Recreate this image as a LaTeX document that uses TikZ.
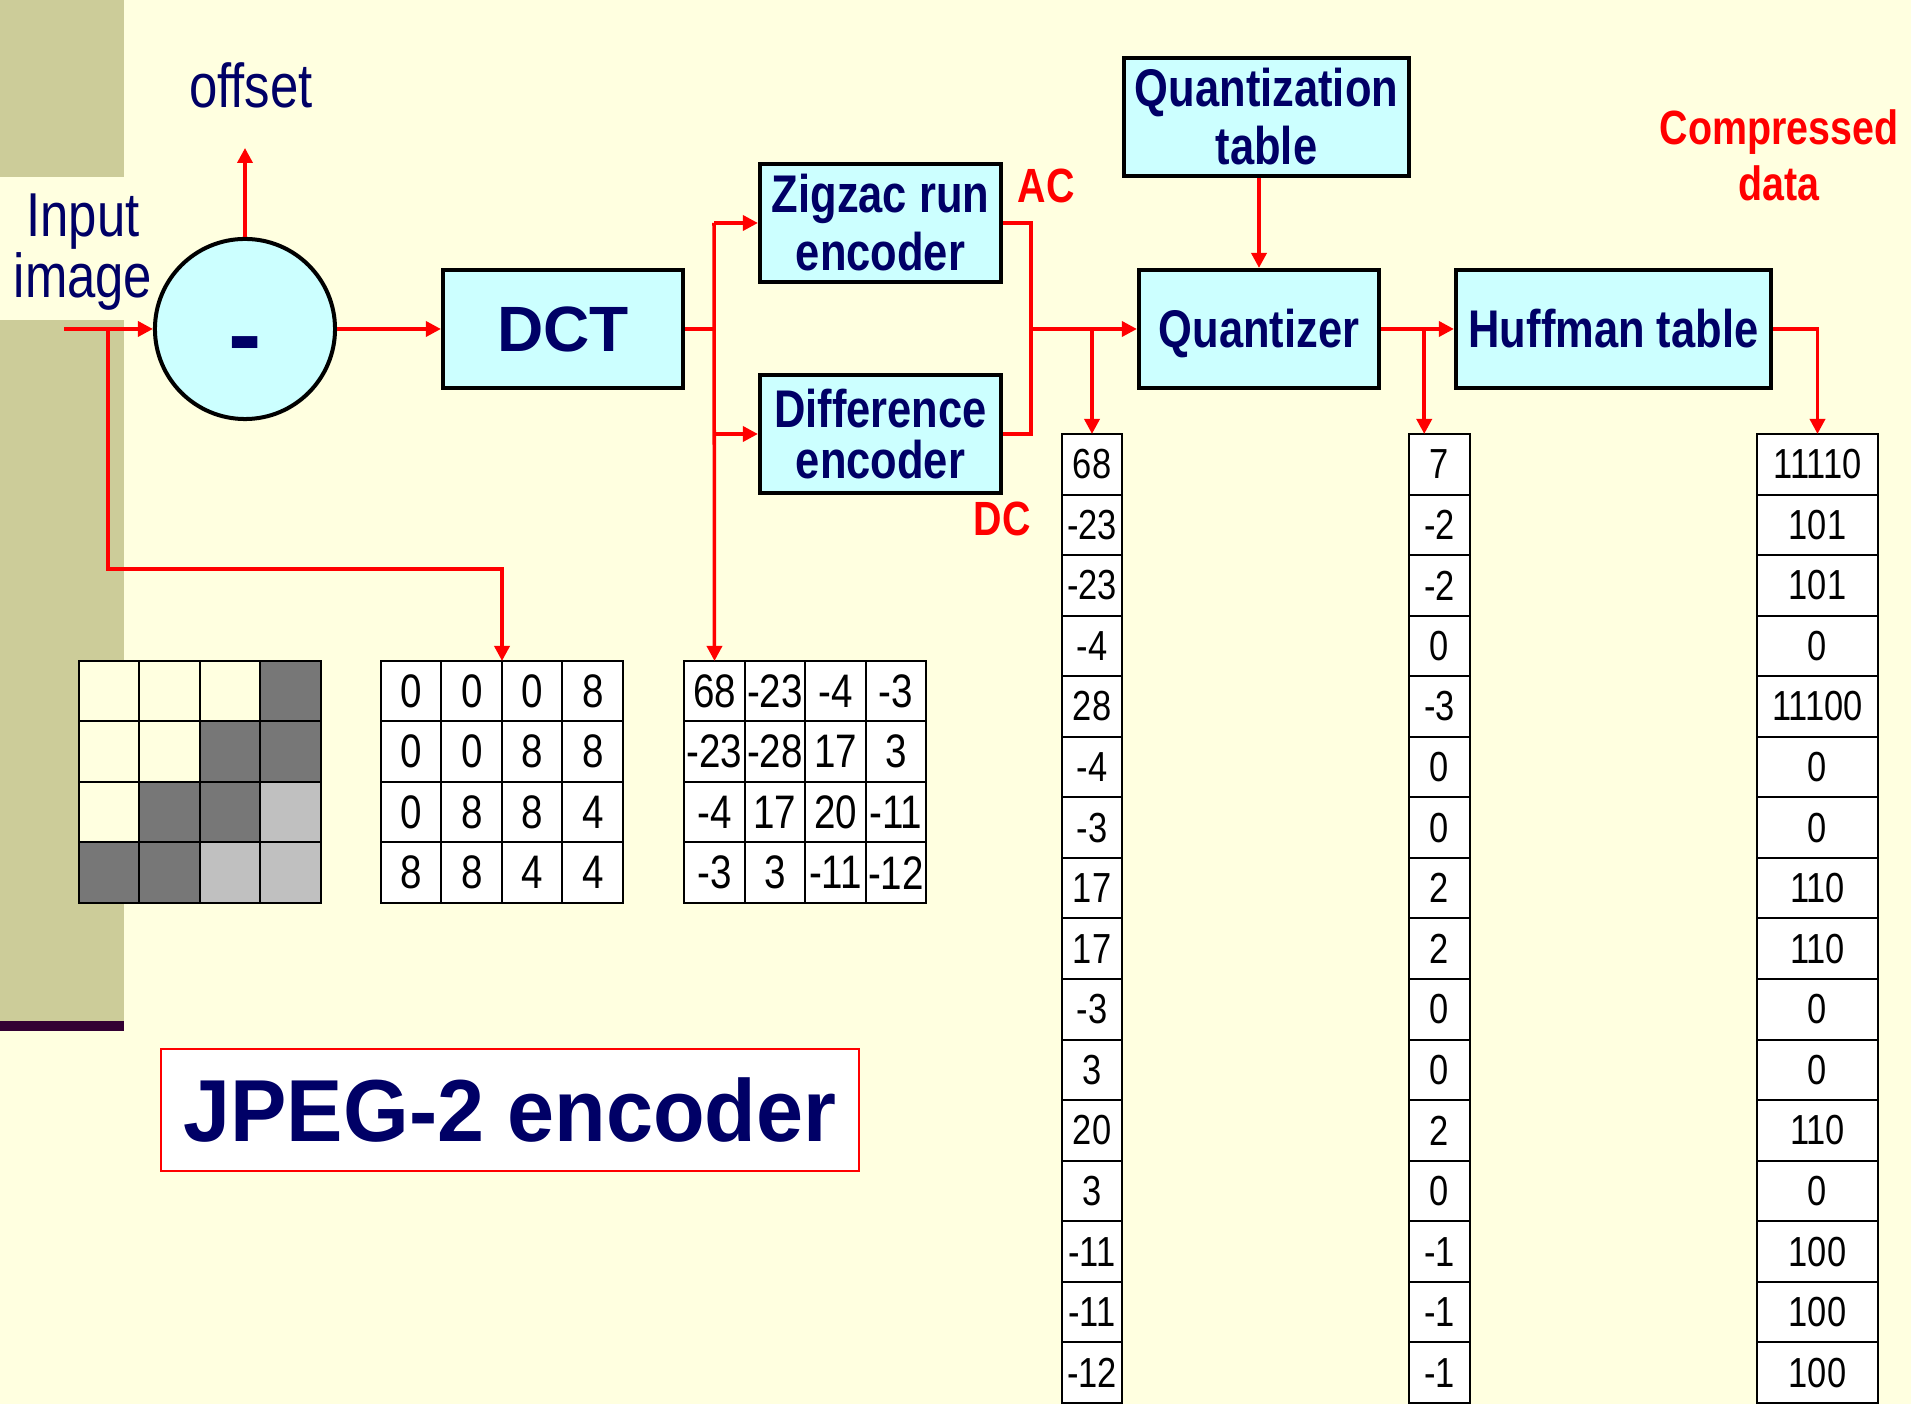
\documentclass[tikz,border=0pt]{standalone}
\usepackage{fontspec}
\setmainfont{Liberation Sans}
\newfontfamily\narrowfont[FakeStretch=0.82]{Liberation Sans}
\newfontfamily\titlefont[FakeStretch=0.96]{Liberation Sans}
\usetikzlibrary{arrows.meta,calc}

\definecolor{pagebg}{RGB}{255,255,224}
\definecolor{sidebar}{RGB}{204,204,153}
\definecolor{sidestrip}{RGB}{51,0,51}
\definecolor{navy}{RGB}{0,0,102}
\definecolor{boxcyan}{RGB}{204,255,255}
\definecolor{cellpale}{RGB}{255,255,224}
\definecolor{celldark}{RGB}{119,119,119}
\definecolor{celllight}{RGB}{192,192,192}

\tikzset{
  blockbox/.style={draw=black, line width=1.14pt, fill=boxcyan, text=navy,
    align=center, inner sep=0pt, minimum height=1.18cm,
    font={\narrowfont\bfseries\fontsize{15.08pt}{16.5pt}\selectfont}},
  conn/.style={draw=red, line width=1pt},
  arr/.style={conn, -{Triangle[length=0.15cm,width=0.15cm]}},
  pixcell/.style={draw=black, line width=0.57pt, minimum width=0.605cm,
    minimum height=0.605cm, inner sep=0pt, outer sep=0pt},
  matcell/.style={pixcell, fill=white,
    font={\narrowfont\fontsize{13.37pt}{15pt}\selectfont}},
  colcell/.style={draw=black, line width=0.57pt, fill=white, inner sep=0pt,
    outer sep=0pt, minimum height=0.6056cm,
    font={\narrowfont\fontsize{11.95pt}{14pt}\selectfont}},
  inlabel/.style={text=navy, align=center, inner sep=0pt,
    font={\narrowfont\fontsize{17.64pt}{17.36pt}\selectfont}},
  redlabel/.style={text=red, align=center, inner sep=0pt,
    font={\narrowfont\bfseries\fontsize{13.66pt}{15.93pt}\selectfont}},
}

\begin{document}
\begin{tikzpicture}[x=0.01cm, y=-0.01cm]
  \useasboundingbox (0,0) rectangle (1911,1404);

  % page and side bar
  \fill[pagebg] (0,0) rectangle (1911,1404);
  \fill[sidebar] (0,0) rectangle (124,177);
  \fill[sidebar] (0,320) rectangle (124,1021);
  \fill[sidestrip] (0,1021) rectangle (124,1031);

  % subtractor
  \node[circle, draw=black, line width=1.14pt, fill=boxcyan, minimum size=1.80cm,
    inner sep=0pt] (sub) at (245,329) {};
  \node[anchor=base, text=navy, inner sep=0pt,
    font={\bfseries\fontsize{28.45pt}{30pt}\selectfont}] (minus) at (245,369) {-};

  % processing blocks
  \node[blockbox, minimum width=2.40cm,
    font={\bfseries\fontsize{18.21pt}{20pt}\selectfont}] (dct) at (563,329) {DCT};
  \node[blockbox, minimum width=2.41cm] (zig) at (880.5,223) {Zigzac run\\encoder};
  \node[blockbox, minimum width=2.41cm,
    font={\narrowfont\bfseries\fontsize{15.08pt}{14.5pt}\selectfont}] (diff) at (880.5,434) {Difference\\encoder};
  \node[blockbox, minimum width=2.85cm] (qtab) at (1266.5,117) {Quantization\\table};
  \node[blockbox, minimum width=2.40cm, text depth=0pt, text height=0.38cm] (quant) at (1259,329) {Quantizer};
  \node[blockbox, minimum width=3.15cm] (huff) at (1613.5,329) {Huffman table};

  % labels
  \node[inlabel] (input) at (83,252) {Input\\image};
  \node[inlabel, anchor=base] (offset) at (251,108) {offset};
  \node[redlabel, anchor=base] (ac) at (1046,203) {AC};
  \node[redlabel, anchor=base] (dc) at (1002,536) {DC};
  \node[redlabel] (compressed) at (1779,155) {Compressed\\data};

  % 4x4 image block
  \foreach \f [count=\k from 0] in {cellpale,cellpale,cellpale,celldark,
      cellpale,cellpale,celldark,celldark,
      cellpale,celldark,celldark,celllight,
      celldark,celldark,celllight,celllight} {
    \pgfmathtruncatemacro\ri{\k/4}
    \pgfmathtruncatemacro\ci{mod(\k,4)}
    \node[pixcell, fill=\f] (img-\ri-\ci) at (109.25+60.5*\ci, 691.25+60.5*\ri) {};
  }

  % pixel values
  \foreach \v [count=\k from 0] in {0,0,0,8, 0,0,8,8, 0,8,8,4, 8,8,4,4} {
    \pgfmathtruncatemacro\ri{\k/4}
    \pgfmathtruncatemacro\ci{mod(\k,4)}
    \node[matcell] (dat-\ri-\ci) at (411.25+60.5*\ci, 691.25+60.5*\ri) {\v};
  }

  % DCT coefficients
  \foreach \v [count=\k from 0] in {68,-23,-4,-3, -23,-28,17,3, -4,17,20,-11, -3,3,-11,-12} {
    \pgfmathtruncatemacro\ri{\k/4}
    \pgfmathtruncatemacro\ci{mod(\k,4)}
    \node[matcell] (coef-\ri-\ci) at (714.5+60.5*\ci, 691.25+60.5*\ri) {\v};
  }

  % zigzag sequence
  \foreach \v [count=\k from 0] in {68,-23,-23,-4,28,-4,-3,17,17,-3,3,20,3,-11,-11,-12} {
    \node[colcell, minimum width=0.60cm] (zz-\k) at (1092, 464.28+60.56*\k) {\v};
  }
  % quantized sequence
  \foreach \v [count=\k from 0] in {7,-2,-2,0,-3,0,0,2,2,0,0,2,0,-1,-1,-1} {
    \node[colcell, minimum width=0.61cm] (qz-\k) at (1439.5, 464.28+60.56*\k) {\v};
  }
  % Huffman codes
  \foreach \v [count=\k from 0] in {11110,101,101,0,11100,0,0,110,110,0,0,110,0,100,100,100} {
    \node[colcell, minimum width=1.21cm] (code-\k) at (1817.5, 464.28+60.56*\k) {\v};
  }

  % title
  \node[draw=red, line width=0.6pt, fill=white, minimum width=6.98cm,
    minimum height=1.22cm, text=navy, inner sep=0pt,
    font={\titlefont\bfseries\fontsize{25.04pt}{28pt}\selectfont}] (title) at (510,1110) {JPEG-2 encoder};

  % connectors
  \coordinate (src) at (64,329);
  \coordinate (tap1) at (108,329);
  \coordinate (low1) at (108,569);
  \coordinate (offtip) at (245,148);
  \coordinate (split) at (714,329);
  \coordinate (join) at (1031,329);
  \coordinate (qztop) at ($(qz-0.north west)!0.25!(qz-0.north east)$);

  \draw[arr] (src) -- (sub.west);
  \draw[arr] (tap1) -- (low1) -| (dat-0-1.north east);
  \draw[arr] (sub.north) -- (offtip);
  \draw[arr] (sub.east) -- (dct.west);

  \draw[conn] (dct.east) -- (split);
  \draw[arr] (split |- zig.west) -- (zig.west);
  \draw[arr] (split |- diff.west) -- (diff.west);
  \draw[arr] (split |- zig.west) -- (coef-0-0.north);

  \draw[conn] (zig.east) -| (join) |- (diff.east);
  \draw[arr] (join) -- (quant.west);
  \draw[arr] (join -| zz-0.north) -- (zz-0.north);

  \draw[arr] (quant.north |- qtab.south) -- (quant.north);

  \draw[arr] (quant.east) -- (huff.west);
  \draw[arr] (qztop |- quant.east) -- (qztop);
  \draw[arr] (huff.east) -| (code-0.north);
\end{tikzpicture}
\end{document}
